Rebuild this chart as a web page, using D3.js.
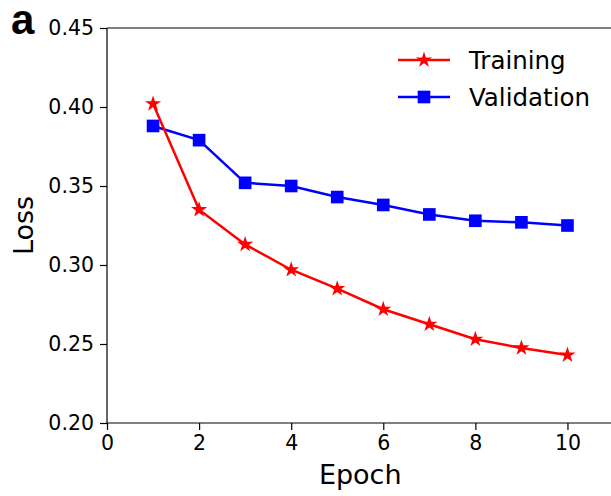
<!DOCTYPE html>
<html>
<head>
<meta charset="utf-8">
<script src="https://cdn.jsdelivr.net/npm/d3@7"></script>
<style>
  body { margin: 0; background: #fff; }
  svg { display: block; font-family: "DejaVu Sans", sans-serif; }
</style>
</head>
<body>
<script>
var epochs = [1, 2, 3, 4, 5, 6, 7, 8, 9, 10];
var training = [0.402, 0.335, 0.313, 0.297, 0.285, 0.272, 0.2625, 0.253, 0.2475, 0.243];
var validation = [0.388, 0.379, 0.352, 0.350, 0.343, 0.338, 0.332, 0.328, 0.327, 0.325];
var xTicks = [0, 2, 4, 6, 8, 10];
var yTicks = [0.20, 0.25, 0.30, 0.35, 0.40, 0.45];

var width = 611, height = 496;
var margin = { top: 28, right: -2.5, bottom: 73, left: 107 };

var svg = d3.select("body").append("svg")
    .attr("width", width)
    .attr("height", height);

var x = d3.scaleLinear().domain([0, 11]).range([margin.left, width - margin.right]);
var y = d3.scaleLinear().domain([0.20, 0.45]).range([height - margin.bottom, margin.top]);

// axes
var xAxis = svg.append("g")
    .attr("transform", "translate(0," + y(0.20) + ")")
    .call(d3.axisBottom(x).tickValues(xTicks).tickSize(7).tickPadding(5).tickFormat(d3.format("d")));
var yAxis = svg.append("g")
    .attr("transform", "translate(" + x(0) + ",0)")
    .call(d3.axisLeft(y).tickValues(yTicks).tickSize(7).tickPadding(6).tickFormat(d3.format(".2f")));

[xAxis, yAxis].forEach(function(g) {
    g.select(".domain").remove();
    g.selectAll(".tick line").attr("stroke", "#000").attr("stroke-width", 1.2);
    g.selectAll(".tick text").attr("font-size", 20.5).attr("fill", "#000")
        .attr("font-family", "DejaVu Sans");
});

// spines: left, bottom, top
svg.append("line").attr("x1", x(0)).attr("x2", x(0)).attr("y1", y(0.45)).attr("y2", y(0.20))
    .attr("stroke", "#000").attr("stroke-width", 1.2);
svg.append("line").attr("x1", x(0)).attr("x2", x(11)).attr("y1", y(0.20)).attr("y2", y(0.20))
    .attr("stroke", "#000").attr("stroke-width", 1.2);
svg.append("line").attr("x1", x(0)).attr("x2", x(11)).attr("y1", y(0.45)).attr("y2", y(0.45))
    .attr("stroke", "#000").attr("stroke-width", 1.2);

// lines
var line = d3.line().x(function(d) { return x(d[0]); }).y(function(d) { return y(d[1]); });
var trainData = epochs.map(function(e, i) { return [e, training[i]]; });
var valData = epochs.map(function(e, i) { return [e, validation[i]]; });

var star = d3.symbol().type(d3.symbolStar).size(80);
var square = d3.symbol().type(d3.symbolSquare).size(160);

svg.append("path").datum(valData).attr("d", line)
    .attr("fill", "none").attr("stroke", "#0000ff").attr("stroke-width", 2.5);
svg.selectAll(".vm").data(valData).enter().append("path")
    .attr("class", "vm")
    .attr("d", square)
    .attr("transform", function(d) { return "translate(" + x(d[0]) + "," + y(d[1]) + ")"; })
    .attr("fill", "#0000ff");

svg.append("path").datum(trainData).attr("d", line)
    .attr("fill", "none").attr("stroke", "#ff0000").attr("stroke-width", 2.5);
svg.selectAll(".tm").data(trainData).enter().append("path")
    .attr("class", "tm")
    .attr("d", star)
    .attr("transform", function(d) { return "translate(" + x(d[0]) + "," + y(d[1]) + ")"; })
    .attr("fill", "#ff0000");

// legend
var legend = [
    { name: "Training", color: "#ff0000", sym: star, y: 60 },
    { name: "Validation", color: "#0000ff", sym: square, y: 97 }
];
legend.forEach(function(l) {
    svg.append("line").attr("x1", 398).attr("x2", 450).attr("y1", l.y).attr("y2", l.y)
        .attr("stroke", l.color).attr("stroke-width", 2.5);
    svg.append("path").attr("d", l.sym).attr("fill", l.color)
        .attr("transform", "translate(424," + l.y + ")");
    svg.append("text").attr("x", 469).attr("y", l.y).attr("dy", "0.36em")
        .attr("font-size", 24.5).text(l.name);
});

// axis labels
svg.append("text").attr("x", (x(0) + x(11)) / 2).attr("y", 484)
    .attr("text-anchor", "middle").attr("font-size", 27).text("Epoch");
svg.append("text")
    .attr("transform", "translate(33," + (y(0.325)) + ") rotate(-90)")
    .attr("text-anchor", "middle").attr("font-size", 27).text("Loss");

// panel letter
svg.append("text").attr("x", 11).attr("y", 34)
    .attr("font-family", "Liberation Sans, Arial, sans-serif").attr("font-weight", "bold")
    .attr("font-size", 42).text("a");
</script>
</body>
</html>
